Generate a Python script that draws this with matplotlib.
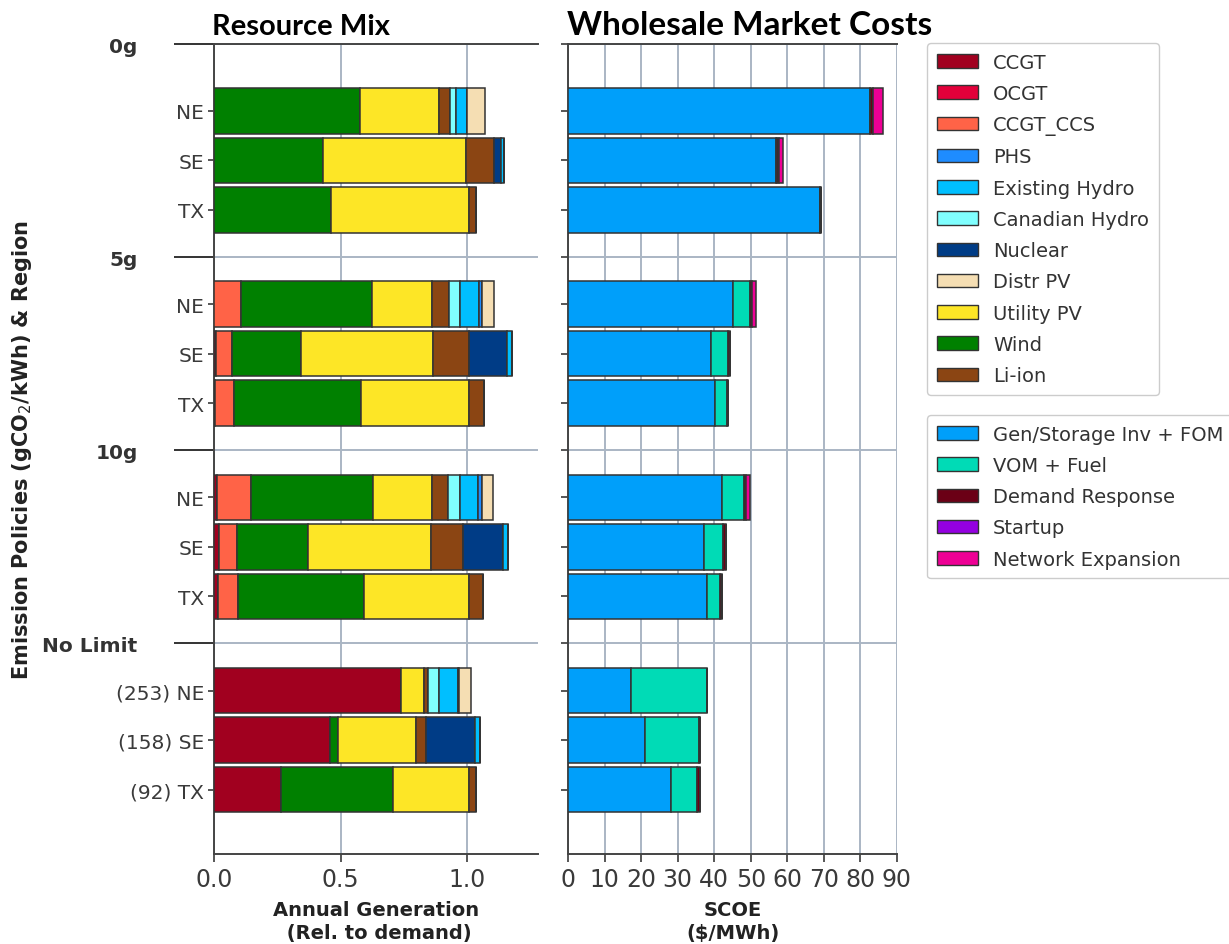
import numpy as np
import matplotlib
matplotlib.use("Agg")
import matplotlib.pyplot as plt
from matplotlib.patches import Patch

# Scenario rows: 4 emission policies x 3 regions
policies = ['0g', '5g', '10g', 'No Limit']
regions = ['NE', 'SE', 'TX']
region_labels = ['NE', 'SE', 'TX', 'NE', 'SE', 'TX', 'NE', 'SE', 'TX',
                 '(253) NE', '(158) SE', '(92) TX']

# Annual generation relative to demand, one value per row
ccgt = [0, 0, 0, 0, 0.006, 0.005, 0.013, 0.020, 0.017, 0.739, 0.458, 0.265]
ocgt = [0, 0, 0, 0, 0, 0, 0, 0, 0, 0, 0, 0]
ccgt_ccs = [0, 0, 0, 0.105, 0.067, 0.074, 0.132, 0.072, 0.076, 0, 0, 0]
wind = [0.575, 0.432, 0.463, 0.518, 0.272, 0.502, 0.482, 0.278, 0.500, 0, 0.033, 0.442]
utility_pv = [0.315, 0.563, 0.543, 0.240, 0.520, 0.428, 0.233, 0.486, 0.415, 0.092, 0.307, 0.299]
li_ion = [0.044, 0.112, 0.030, 0.066, 0.141, 0.058, 0.066, 0.126, 0.053, 0.013, 0.040, 0.030]
nuclear = [0, 0.026, 0, 0, 0.152, 0, 0, 0.158, 0, 0, 0.195, 0]
canadian_hydro = [0.024, 0, 0, 0.044, 0, 0, 0.046, 0, 0, 0.046, 0, 0]
existing_hydro = [0.042, 0.013, 0, 0.072, 0.020, 0, 0.072, 0.020, 0, 0.072, 0.018, 0]
phs = [0, 0, 0, 0.013, 0, 0, 0.013, 0, 0, 0.007, 0, 0]
distr_pv = [0.072, 0, 0, 0.049, 0, 0, 0.046, 0, 0, 0.045, 0, 0]

# System cost of electricity components ($/MWh)
gen_storage_inv = [82.5, 56.8, 68.8, 45.2, 39.1, 40.2, 42.2, 37.2, 37.9, 17.2, 21.2, 28.1]
vom_fuel = [0, 0.4, 0, 4.6, 4.75, 3.2, 6.0, 5.3, 3.75, 20.7, 14.7, 7.3]
demand_response = [0.9, 0.4, 0.3, 0.4, 0.6, 0.4, 0.6, 0.8, 0.4, 0, 0.3, 0.7]
startup = [0, 0, 0, 0, 0, 0, 0, 0, 0, 0, 0, 0]
network_expansion = [2.7, 1.2, 0, 1.2, 0, 0, 1.0, 0, 0, 0, 0, 0]

colors = {
    'CCGT': '#a1001f', 'OCGT': '#e3003a', 'CCGT_CCS': '#ff6347',
    'PHS': '#1e8cff', 'Existing Hydro': '#00bfff', 'Canadian Hydro': '#80ffff',
    'Nuclear': '#003c86', 'Distr PV': '#f5deb3', 'Utility PV': '#fde626',
    'Wind': '#008000', 'Li-ion': '#8b4513',
    'Gen/Storage Inv + FOM': '#009ffa', 'VOM + Fuel': '#00dbb6',
    'Demand Response': '#6b0016', 'Startup': '#9400e0',
    'Network Expansion': '#ee0095',
}

# stacking order left to right
gen_stack = [('CCGT', ccgt), ('OCGT', ocgt), ('CCGT_CCS', ccgt_ccs), ('Wind', wind),
             ('Utility PV', utility_pv), ('Li-ion', li_ion), ('Nuclear', nuclear),
             ('Canadian Hydro', canadian_hydro), ('Existing Hydro', existing_hydro),
             ('PHS', phs), ('Distr PV', distr_pv)]
cost_stack = [('Gen/Storage Inv + FOM', gen_storage_inv), ('VOM + Fuel', vom_fuel),
              ('Demand Response', demand_response), ('Startup', startup),
              ('Network Expansion', network_expansion)]
gen_legend = ['CCGT', 'OCGT', 'CCGT_CCS', 'PHS', 'Existing Hydro', 'Canadian Hydro',
              'Nuclear', 'Distr PV', 'Utility PV', 'Wind', 'Li-ion']

# row positions, groups spaced a bit wider than 3 rows
group_step = 3.9
ypos = np.array([g * group_step + r for g in range(len(policies)) for r in range(len(regions))])
sep = [-1.35] + [g * group_step - 0.95 for g in range(1, len(policies))]
ylim = (15.0, -1.35)

edge = '#333333'
grid_c = '#aab6c4'
tick_c = '#3a3a3a'

fig = plt.figure(figsize=(12.29, 9.45), dpi=100)
ax1 = fig.add_axes([214 / 1229, 90 / 945, 324 / 1229, 810 / 945])
ax2 = fig.add_axes([568 / 1229, 90 / 945, 329 / 1229, 810 / 945])


def stack(ax, parts):
    left = np.zeros(len(ypos))
    for name, vals in parts:
        vals = np.array(vals, dtype=float)
        ax.barh(ypos, vals, left=left, height=0.92, color=colors[name],
                edgecolor=edge, linewidth=1.1, zorder=3)
        left += vals


stack(ax1, gen_stack)
stack(ax2, cost_stack)

for ax in (ax1, ax2):
    ax.set_ylim(*ylim)
    ax.set_yticks(sep)
    ax.set_yticks(ypos, minor=True)
    ax.grid(axis='x', color=grid_c, linewidth=1.4, zorder=0)
    ax.grid(axis='y', which='major', color=grid_c, linewidth=1.4, zorder=0)
    for s in ('left', 'top', 'bottom'):
        ax.spines[s].set_color('#444444')
        ax.spines[s].set_linewidth(1.4)
    ax.spines['right'].set_visible(False)
    ax.tick_params(axis='x', labelsize=17, colors=tick_c, length=6, width=1.2)

ax1.set_xlim(0, 1.28)
ax1.set_xticks([0, 0.5, 1.0])
ax1.set_xticklabels(['0.0', '0.5', '1.0'])
ax1.set_yticklabels(policies, fontweight='bold', fontsize=14.5)
ax1.set_yticklabels(region_labels, minor=True, fontsize=14.5)
ax1.tick_params(axis='y', which='major', length=29, width=1.4, pad=26, colors='#333333')
ax1.tick_params(axis='y', which='minor', length=4, width=1.2, pad=3, colors=tick_c)

ax2.set_xlim(0, 90)
ax2.set_xticks(np.arange(0, 91, 10))
ax2.set_yticklabels([])
ax2.set_yticklabels([], minor=True)
ax2.tick_params(axis='y', which='both', length=5, width=1.2, colors=tick_c)

ax1.set_xlabel('Annual Generation\n (Rel. to demand)', fontsize=14, fontweight='bold',
               color='#222222', labelpad=6, linespacing=1.3)
ax2.set_xlabel('SCOE\n($/MWh)', fontsize=14, fontweight='bold', color='#222222',
               labelpad=6, linespacing=1.3)

fig.text(212 / 1229, 1 - 35 / 945, 'Resource Mix', fontsize=21, fontweight='bold',
         family=['Lato', 'DejaVu Sans'], va='baseline', ha='left')
fig.text(567 / 1229, 1 - 35 / 945, 'Wholesale Market Costs', fontsize=24,
         fontweight='bold', family=['Lato', 'DejaVu Sans'], va='baseline', ha='left')
fig.text(22 / 1229, 1 - 450 / 945, 'Emission Policies (gCO$_2$/kWh) & Region',
         rotation=90, fontsize=15, fontweight='bold', ha='center', va='center',
         color='#222222')

h1 = [Patch(facecolor=colors[n], edgecolor=edge, linewidth=1) for n in gen_legend]
h2 = [Patch(facecolor=colors[n], edgecolor=edge, linewidth=1) for n, _ in cost_stack]
leg_kw = dict(loc='upper left', fontsize=14, frameon=True, fancybox=True,
              edgecolor='#cccccc', framealpha=1, borderaxespad=0,
              handlelength=2.1, handleheight=0.7, handletextpad=0.8, labelspacing=0.63,
              borderpad=0.5)
l1 = fig.legend(h1, gen_legend, bbox_to_anchor=(927 / 1229, 1 - 44 / 945), **leg_kw)
l2 = fig.legend(h2, [n for n, _ in cost_stack],
                bbox_to_anchor=(927 / 1229, 1 - 416 / 945), **leg_kw)
for lg in (l1, l2):
    for t in lg.get_texts():
        t.set_color('#333333')

fig.savefig('out.png', dpi=100)
